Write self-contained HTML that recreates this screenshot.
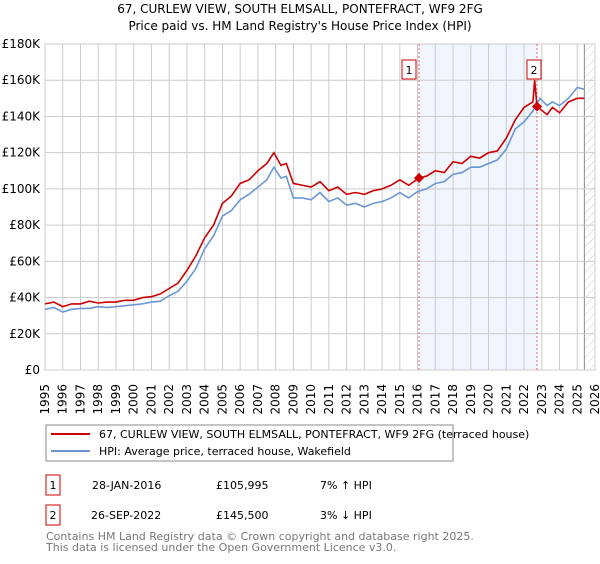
<!DOCTYPE html>
<html><head><meta charset="utf-8"><style>
body{margin:0;background:#fff;font-family:"DejaVu Sans","Liberation Sans",sans-serif;}
svg text{font-family:"DejaVu Sans","Liberation Sans",sans-serif;}
</style></head><body>
<svg id="chart" width="600" height="560" xmlns="http://www.w3.org/2000/svg">
<defs><pattern id="hatch" width="6" height="6" patternUnits="userSpaceOnUse" patternTransform="rotate(45)"><line x1="0" y1="0" x2="0" y2="6" stroke="#ccc" stroke-width="1"/></pattern></defs>
<text x="300" y="13" font-size="12" text-anchor="middle">67, CURLEW VIEW, SOUTH ELMSALL, PONTEFRACT, WF9 2FG</text>
<text x="300" y="30" font-size="12" text-anchor="middle">Price paid vs. HM Land Registry's House Price Index (HPI)</text>
<g id="plot"></g>
<g>
<rect x="46" y="425" width="407" height="36" fill="#fff" stroke="#888"/>
<line x1="51" y1="434" x2="90" y2="434" stroke="#cc0000" stroke-width="2"/>
<text x="99" y="438" font-size="11">67, CURLEW VIEW, SOUTH ELMSALL, PONTEFRACT, WF9 2FG (terraced house)</text>
<line x1="51" y1="451" x2="90" y2="451" stroke="#6a97d4" stroke-width="2"/>
<text x="99" y="455" font-size="11">HPI: Average price, terraced house, Wakefield</text>
</g>
<g font-size="11">
<rect x="46" y="475" width="14" height="20" fill="#fff" stroke="#cc0000"/>
<text x="53" y="489" text-anchor="middle">1</text>
<text x="92" y="489">28-JAN-2016</text><text x="216" y="489">£105,995</text><text x="320" y="489">7% ↑ HPI</text>
</g>
<g font-size="11">
<rect x="46" y="505" width="14" height="20" fill="#fff" stroke="#cc0000"/>
<text x="53" y="519" text-anchor="middle">2</text>
<text x="91" y="519">26-SEP-2022</text><text x="216" y="519">£145,500</text><text x="320" y="519">3% ↓ HPI</text>
</g>
<text x="46" y="540" font-size="11" fill="#777">Contains HM Land Registry data © Crown copyright and database right 2025.</text>
<text x="46" y="551" font-size="11" fill="#777">This data is licensed under the Open Government Licence v3.0.</text>
</svg>
<script>
const hpiYears=[1995,1995.5,1996,1996.5,1997,1997.5,1998,1998.5,1999,1999.5,2000,2000.5,2001,2001.5,2002,2002.5,2003,2003.5,2004,2004.5,2005,2005.5,2006,2006.5,2007,2007.5,2007.9,2008.3,2008.6,2009,2009.5,2010,2010.5,2011,2011.5,2012,2012.5,2013,2013.5,2014,2014.5,2015,2015.5,2016,2016.5,2017,2017.5,2018,2018.5,2019,2019.5,2020,2020.5,2021,2021.5,2022,2022.5,2022.9,2023.3,2023.6,2024,2024.5,2025,2025.4];
const hpiValues=[33.5,34.5,32,33.5,34,34,35,34.5,35,35.5,36,36.5,37.5,38,41,43.5,49,56,67,74,85,88,94,97,101,105,112,106,107,95,95,94,98,93,95,91,92,90,92,93,95,98,95,98.5,100,103,104,108,109,112,112,114,116,122,133,137,143,150,146,148,146,150,156,155];
const priceYears=[1995,1995.5,1996,1996.5,1997,1997.5,1998,1998.5,1999,1999.5,2000,2000.5,2001,2001.5,2002,2002.5,2003,2003.5,2004,2004.5,2005,2005.5,2006,2006.5,2007,2007.5,2007.9,2008.3,2008.6,2009,2009.5,2010,2010.5,2011,2011.5,2012,2012.5,2013,2013.5,2014,2014.5,2015,2015.5,2016.08,2016.5,2017,2017.5,2018,2018.5,2019,2019.5,2020,2020.5,2021,2021.5,2022,2022.5,2022.6,2022.73,2023.3,2023.6,2024,2024.5,2025,2025.4];
const priceValues=[36.5,37.5,35,36.5,36.5,38,37,37.5,37.5,38.5,38.5,40,40.5,42,45,48,55,63,73,80,92,96,103,105,110,114,120,113,114,103,102,101,104,99,101,97,98,97,99,100,102,105,102,106,107,110,109,115,114,118,117,120,121,128,138,145,148,160,145.5,141,145,142,148,150,150];
const saleYears=[2016.08,2022.73];
const saleValues=[105.995,145.5];
const yTicks=[0,20,40,60,80,100,120,140,160,180];
const yTickLabels=["£0","£20K","£40K","£60K","£80K","£100K","£120K","£140K","£160K","£180K"];
const xTicks=[1995,1996,1997,1998,1999,2000,2001,2002,2003,2004,2005,2006,2007,2008,2009,2010,2011,2012,2013,2014,2015,2016,2017,2018,2019,2020,2021,2022,2023,2024,2025,2026];
const dataEnd=2025.4;
const NS="http://www.w3.org/2000/svg";
const X0=45,X1=595,Y0=370,Y1=44;
const xs=y=>X0+(y-1995)/(2026-1995)*(X1-X0);
const ys=v=>Y0-v/180*(Y0-Y1);
const g=document.getElementById('plot');
function mk(t,a,p){const e=document.createElementNS(NS,t);for(const k in a)e.setAttribute(k,a[k]);(p||g).appendChild(e);return e;}
const shade=mk('rect',{x:xs(saleYears[0]),y:Y1,width:xs(saleYears[1])-xs(saleYears[0]),height:Y0-Y1,fill:'#eef3fc',opacity:0.8});


const hatch=mk('rect',{x:xs(dataEnd),y:Y1,width:X1-xs(dataEnd),height:Y0-Y1,fill:'url(#hatch)'});


mk('line',{x1:xs(dataEnd),y1:Y1,x2:xs(dataEnd),y2:Y0,stroke:'#888'});
yTicks.forEach((v,i)=>{
 const l=mk('line',{x1:X0,y1:ys(v),x2:X1,y2:ys(v),stroke:'#ccc'});
 
 
 const t=mk('text',{x:X0-5,y:ys(v)+4,'font-size':12,'text-anchor':'end'});t.textContent=yTickLabels[i];
 
 
});
xTicks.forEach(yr=>{
 const l=mk('line',{x1:xs(yr),y1:Y1,x2:xs(yr),y2:Y0,stroke:'#ccc'});
 
 
 const t=mk('text',{x:0,y:0,'font-size':12,'text-anchor':'end',transform:`translate(${xs(yr)+4},${384}) rotate(-90)`});t.textContent=yr;
 
 
});
mk('rect',{x:X0,y:Y1,width:X1-X0,height:Y0-Y1,fill:'none',stroke:'#ccc'});
saleYears.forEach((yr,i)=>{
 const l=mk('line',{x1:xs(yr),y1:Y1,x2:xs(yr),y2:Y0,stroke:'#e06666','stroke-dasharray':'2,2'});
 
 
});
const hp=mk('polyline',{points:hpiYears.map((y,i)=>xs(y)+','+ys(hpiValues[i])).join(' '),fill:'none',stroke:'#6a97d4','stroke-width':1.6});


const pp=mk('polyline',{points:priceYears.map((y,i)=>xs(y)+','+ys(priceValues[i])).join(' '),fill:'none',stroke:'#cc0000','stroke-width':1.6});


saleYears.forEach((yr,i)=>{
 const cx=xs(yr),cy=ys(saleValues[i]);
 const d=mk('polygon',{points:`${cx},${cy-5} ${cx+5},${cy} ${cx},${cy+5} ${cx-5},${cy}`,fill:'#cc0000'});
 
 
 const b=mk('rect',{x:cx-22+7,y:60,width:14,height:19,fill:'#fff',stroke:'#cc0000'});
 b.setAttribute('x',cx-7-(i?3:10));
 
 
 const t=mk('text',{x:cx-(i?3:10),y:74,'font-size':11,'text-anchor':'middle'});t.textContent=String(i+1);
 
 
});
</script>
</body></html>
